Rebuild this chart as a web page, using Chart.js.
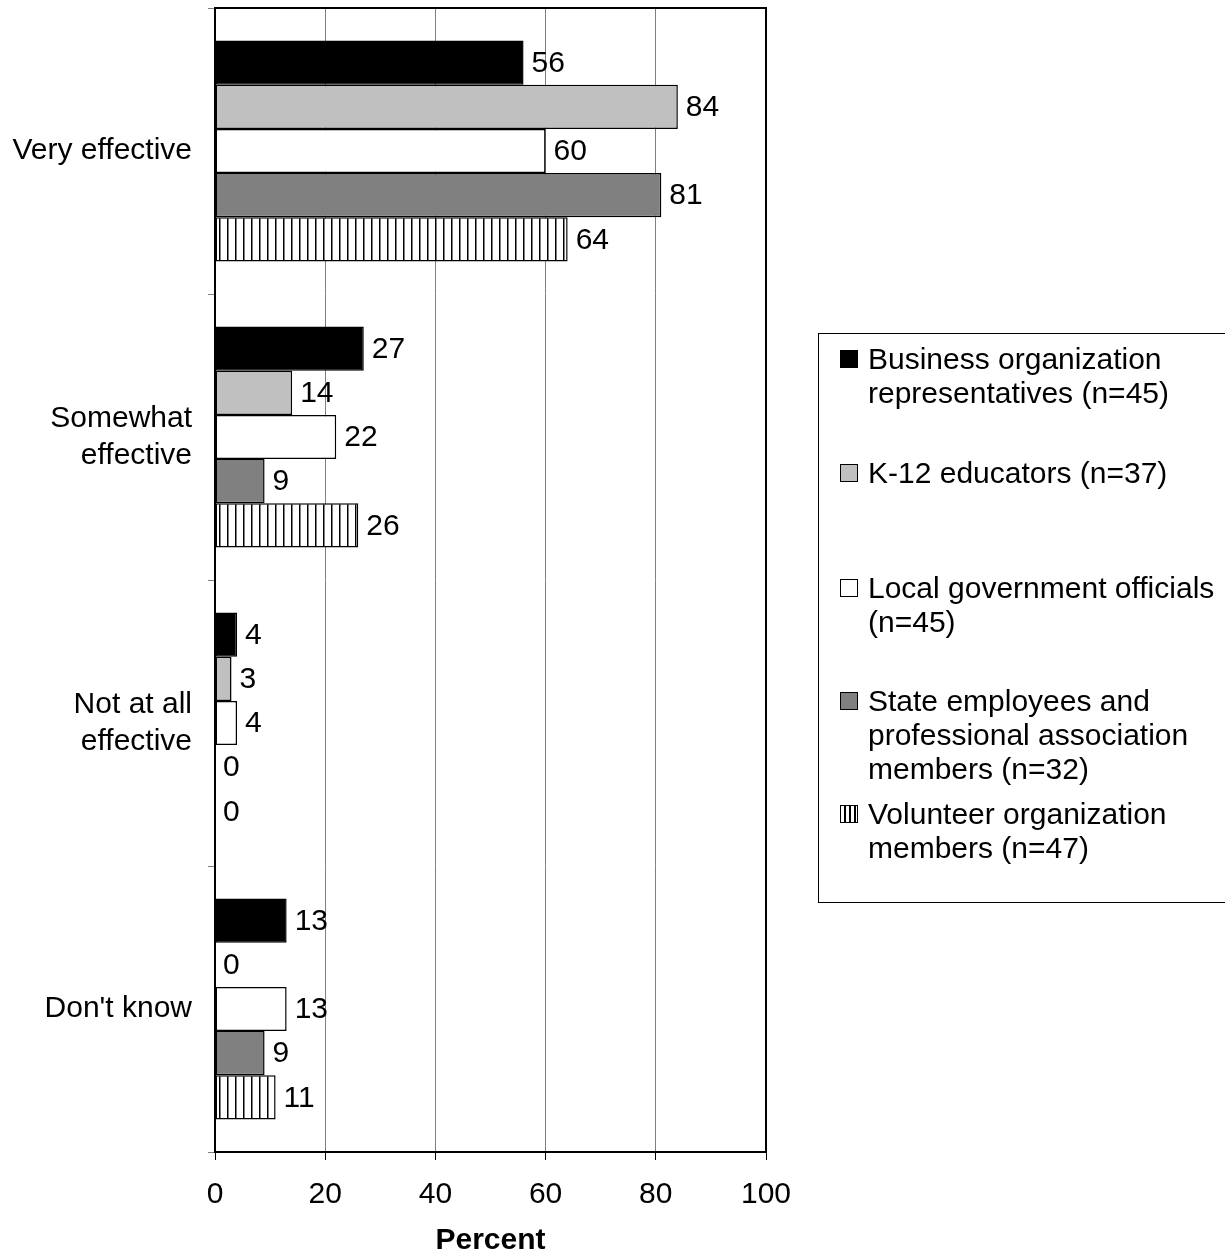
<!DOCTYPE html>
<html>
<head>
<meta charset="utf-8">
<script src="https://cdn.jsdelivr.net/npm/chart.js@4.4.1/dist/chart.umd.min.js"></script>
<style>
  body { margin: 0; background: #fff; overflow: hidden; }
  #wrap { position: relative; width: 1225px; height: 1259px; }
  #legend {
    position: absolute; left: 818px; top: 333px; width: 460px; height: 568px;
    border: 1px solid #000; font-family: "Liberation Sans", Arial, sans-serif; font-size: 30px; color: #000;
  }
  .item { position: absolute; left: 21px; line-height: 34px; }
  .swatch { position: absolute; left: 0; top: 8px; width: 16px; height: 16px; border: 1px solid #000; }
  .txt { margin-left: 28px; width: 355px; }
</style>
</head>
<body>
<div id="wrap">
  <canvas id="chart" width="1225" height="1259"></canvas>
  <div id="legend"></div>
</div>
<script>
  const categories = ["Very effective", ["Somewhat", "effective"], ["Not at all", "effective"], "Don't know"];
  const seriesNames = [
    "Business organization representatives (n=45)",
    "K-12 educators (n=37)",
    "Local government officials (n=45)",
    "State employees and professional association members (n=32)",
    "Volunteer organization members (n=47)"
  ];
  const business = [56, 27, 4, 13];
  const k12 = [84, 14, 3, 0];
  const localGov = [60, 22, 4, 13];
  const stateEmp = [81, 9, 0, 9];
  const volunteer = [64, 26, 0, 11];
  const xTicks = [0, 20, 40, 60, 80, 100];

  const FONT = '"Liberation Sans", Arial, sans-serif';

  // vertical stripe fill for the last series
  function stripes() {
    const c = document.createElement("canvas");
    c.width = 8; c.height = 8;
    const g = c.getContext("2d");
    g.fillStyle = "#fff"; g.fillRect(0, 0, 8, 8);
    g.fillStyle = "#000"; g.fillRect(3, 0, 1.5, 8);
    return g.createPattern(c, "repeat");
  }

  const fills = ["#000000", "#c0c0c0", "#ffffff", "#808080", stripes()];
  const legendFills = ["#000000", "#c0c0c0", "#ffffff", "#808080",
    "repeating-linear-gradient(90deg, #fff 0 3px, #000 3px 5px)"];
  const values = [business, k12, localGov, stateEmp, volunteer];

  // value labels at bar ends
  const valueLabels = {
    id: "valueLabels",
    afterDatasetsDraw(chart) {
      const ctx = chart.ctx;
      ctx.save();
      ctx.font = "30px " + FONT;
      ctx.fillStyle = "#000";
      ctx.textAlign = "left";
      ctx.textBaseline = "middle";
      chart.data.datasets.forEach((ds, i) => {
        chart.getDatasetMeta(i).data.forEach((bar, j) => {
          ctx.fillText(ds.data[j], bar.x + 8, bar.y + 1);
        });
      });
      ctx.restore();
    }
  };

  // top and right edge of the plot area
  const frame = {
    id: "frame",
    beforeDatasetsDraw(chart) {
      const a = chart.chartArea, ctx = chart.ctx;
      ctx.save();
      ctx.strokeStyle = "#000";
      ctx.lineWidth = 2;
      ctx.beginPath();
      ctx.moveTo(a.left, a.top);
      ctx.lineTo(a.right, a.top);
      ctx.lineTo(a.right, a.bottom);
      ctx.stroke();
      ctx.restore();
    }
  };

  new Chart(document.getElementById("chart"), {
    type: "bar",
    data: {
      labels: categories,
      datasets: seriesNames.map((name, i) => ({
        label: name,
        data: values[i],
        backgroundColor: fills[i],
        borderColor: "#000",
        borderWidth: 1.5,
        borderSkipped: false,
        categoryPercentage: 0.773,
        barPercentage: 1
      }))
    },
    options: {
      indexAxis: "y",
      responsive: false,
      animation: false,
      devicePixelRatio: 1,
      layout: { padding: { top: 8, right: 459, left: 0, bottom: 0 } },
      plugins: { legend: { display: false }, tooltip: { enabled: false } },
      scales: {
        x: {
          min: 0,
          max: 100,
          afterBuildTicks(s) { s.ticks = xTicks.map(v => ({ value: v })); },
          ticks: { color: "#000", font: { size: 30, family: FONT }, padding: 17 },
          grid: { color: "#808080", lineWidth: 1, tickColor: "#000", tickLength: 8 },
          border: { color: "#000", width: 2 },
          title: {
            display: true, text: "Percent", color: "#000",
            font: { size: 30, weight: "bold", family: FONT },
            padding: { top: 0, bottom: 0 }
          },
          afterFit(s) { s.height = 107; }
        },
        y: {
          ticks: { color: "#000", font: { size: 30, family: FONT, lineHeight: 1.23 }, padding: 16, autoSkip: false },
          grid: { drawOnChartArea: false, tickColor: "#808080", tickLength: 7, offset: true },
          border: { color: "#000", width: 2 },
          afterFit(s) { s.width = 215; s.paddingTop = 0; s.paddingBottom = 0; }
        }
      }
    },
    plugins: [frame, valueLabels]
  });

  // legend
  const legendTops = [8, 122, 237, 350, 463];
  const legend = document.getElementById("legend");
  seriesNames.forEach((name, i) => {
    const item = document.createElement("div");
    item.className = "item";
    item.style.top = legendTops[i] + "px";
    const sw = document.createElement("div");
    sw.className = "swatch";
    sw.style.background = legendFills[i];
    const txt = document.createElement("div");
    txt.className = "txt";
    txt.textContent = name;
    item.appendChild(sw);
    item.appendChild(txt);
    legend.appendChild(item);
  });
</script>
</body>
</html>
